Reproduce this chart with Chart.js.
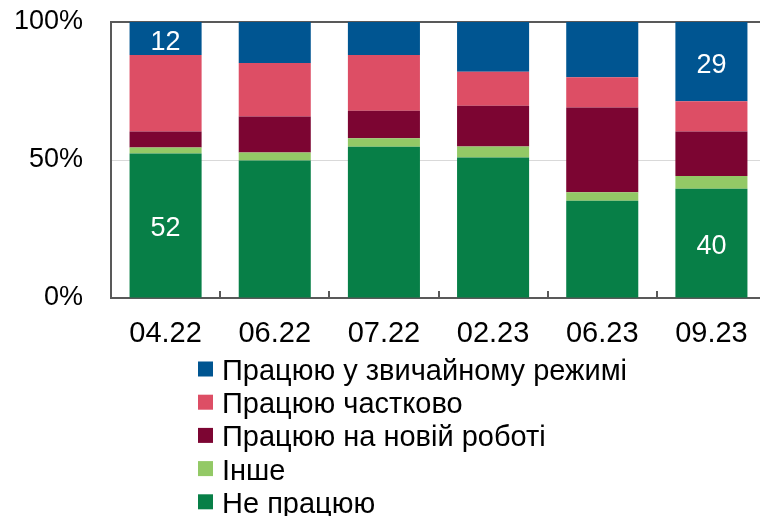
<!DOCTYPE html>
<html>
<head>
<meta charset="utf-8">
<script src="https://cdn.jsdelivr.net/npm/chart.js@4/dist/chart.umd.min.js"></script>
<style>
  html, body { margin: 0; padding: 0; background: #fff; }
  #wrap { width: 760px; height: 516px; overflow: hidden; position: relative; }
  canvas { display: block; }
</style>
</head>
<body>
<div id="wrap"><canvas id="c" width="780" height="516"></canvas></div>
<script>
const categories = ["04.22", "06.22", "07.22", "02.23", "06.23", "09.23"];
const seriesNames = ["Не працюю", "Інше", "Працюю на новій роботі", "Працюю частково", "Працюю у звичайному режимі"];
const notWorking   = [52.4, 49.8, 54.8, 50.9, 35.2, 39.6];
const other        = [2.1, 2.9, 3.1, 4.0, 3.1, 4.6];
const newJob       = [5.8, 13.1, 9.9, 14.8, 30.7, 16.1];
const partly       = [27.7, 19.3, 20.2, 12.3, 11.0, 11.0];
const usual        = [12.0, 14.9, 12.0, 18.0, 20.0, 28.7];
const notWorkingLabels = ["52", "", "", "", "", "40"];
const usualLabels      = ["12", "", "", "", "", "29"];
const yTicks = [0, 50, 100];

const colors = ["#077F47", "#93C966", "#7C0532", "#DD4E65", "#005591"];
const FONT = '"Liberation Sans", Arial, sans-serif';

const valueLabelPlugin = {
  id: 'valueLabels',
  afterDatasetsDraw(chart) {
    const ctx = chart.ctx;
    ctx.save();
    ctx.font = '27px ' + FONT;
    ctx.fillStyle = '#fff';
    ctx.textAlign = 'center';
    ctx.textBaseline = 'alphabetic';
    chart.data.datasets.forEach((ds, di) => {
      if (!ds.valueLabels) return;
      const meta = chart.getDatasetMeta(di);
      meta.data.forEach((el, i) => {
        const t = ds.valueLabels[i];
        if (!t) return;
        const p = el.getCenterPoint();
        ctx.fillText(t, p.x, p.y + 11);
      });
    });
    ctx.restore();
  }
};

const vLegendPlugin = {
  id: 'vLegend',
  afterDraw(chart, args, opts) {
    const ctx = chart.ctx;
    ctx.save();
    ctx.font = opts.fontSize + 'px ' + FONT;
    ctx.textBaseline = 'alphabetic';
    ctx.textAlign = 'left';
    const items = chart.data.datasets.slice().reverse();
    items.forEach((ds, i) => {
      const y = opts.top + i * opts.rowHeight;
      ctx.fillStyle = ds.backgroundColor;
      ctx.fillRect(opts.left, y - opts.box / 2, opts.box, opts.box);
      ctx.fillStyle = '#000';
      ctx.fillText(ds.label, opts.left + opts.box + opts.gap, y + 11);
    });
    ctx.restore();
  }
};

const seriesData = [notWorking, other, newJob, partly, usual];
const datasets = seriesData.map((d, i) => ({
  label: seriesNames[i],
  data: d,
  backgroundColor: colors[i],
  borderWidth: 0,
  categoryPercentage: 1.0,
  barPercentage: 0.66,
  valueLabels: i === 0 ? notWorkingLabels : (i === 4 ? usualLabels : null)
}));

function noPad(scale) {
  scale.paddingTop = 0; scale.paddingBottom = 0;
  scale.paddingLeft = 0; scale.paddingRight = 0;
}

new Chart(document.getElementById('c'), {
  type: 'bar',
  data: { labels: categories, datasets },
  plugins: [valueLabelPlugin, vLegendPlugin],
  options: {
    responsive: false,
    animation: false,
    layout: { padding: { top: 22, right: 14, left: 0, bottom: 0 } },
    plugins: {
      legend: { display: false },
      tooltip: { enabled: false },
      vLegend: { left: 198, top: 369, rowHeight: 33.2, box: 15, gap: 9, fontSize: 29 }
    },
    scales: {
      x: {
        stacked: true,
        grid: {
          offset: true,
          drawOnChartArea: false,
          drawTicks: true,
          tickLength: -7,
          color: '#595959',
          lineWidth: 2
        },
        border: { display: true, color: '#595959', width: 2 },
        ticks: {
          color: '#000',
          font: { family: FONT, size: 29 },
          padding: 26,
          maxRotation: 0
        },
        afterFit(scale) { scale.height = 218; noPad(scale); }
      },
      y: {
        stacked: true,
        min: 0,
        max: 100,
        afterBuildTicks(scale) { scale.ticks = yTicks.map(v => ({ value: v })); },
        grid: {
          drawTicks: false,
          color: ctx => ctx.tick && ctx.tick.value === 50 ? '#D9D9D9' : (ctx.tick && ctx.tick.value === 100 ? '#595959' : 'rgba(0,0,0,0)'),
          lineWidth: ctx => ctx.tick && ctx.tick.value === 100 ? 2 : 1
        },
        border: { display: true, color: '#595959', width: 2 },
        ticks: {
          color: '#000',
          font: { family: FONT, size: 27 },
          padding: 28,
          callback: v => v + '%'
        },
        afterFit(scale) { scale.width = 111; noPad(scale); }
      }
    }
  }
});
</script>
</body>
</html>
